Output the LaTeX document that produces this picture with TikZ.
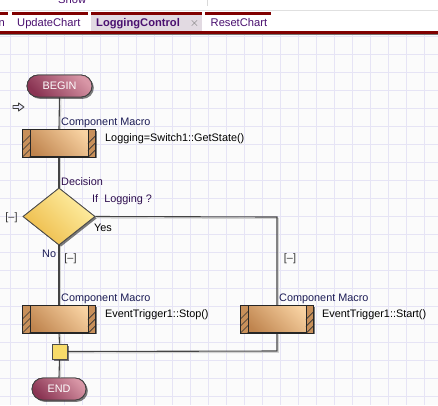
\documentclass[tikz,border=0pt]{standalone}
\usepackage{fontspec}
\setmainfont{Liberation Sans}
\usetikzlibrary{shapes.geometric,shapes.misc,shadows,calc}
\definecolor{tabred}{HTML}{800000}
\definecolor{tabtext}{HTML}{4A1070}
\definecolor{activetab}{HTML}{E2DAE2}
\definecolor{gridbg}{HTML}{FBFBFB}
\definecolor{gridline}{HTML}{E6E4F5}
\definecolor{labelblue}{HTML}{1B1B55}
\definecolor{labelpurple}{HTML}{2E0E4E}
\definecolor{termdark}{HTML}{8A3453}
\definecolor{termlight}{HTML}{D896A6}
\definecolor{boxdark}{HTML}{BF844E}
\definecolor{boxlight}{HTML}{F8D2A2}
\definecolor{stripfill}{HTML}{C8905A}
\definecolor{diadark}{HTML}{EDBB48}
\definecolor{dialight}{HTML}{FFF0A6}
\definecolor{junction}{HTML}{F8DC6A}
\definecolor{connline}{HTML}{444444}
\begin{document}
\begin{tikzpicture}[x=1bp,y=-1bp,font=\fontsize{10.9}{12}\selectfont,
  shade/.style={drop shadow={shadow xshift=1.8bp,shadow yshift=-1.8bp,fill=black,opacity=0.3}},
  term/.style={rounded rectangle, draw=black!75, line width=0.8bp, minimum height=22bp,
    inner sep=0pt, text=white, bottom color=termdark, top color=termlight, shading angle=-45, shade},
  compbox/.style={rectangle, draw=black!85, line width=0.9bp, minimum width=72bp, minimum height=27bp,
    inner sep=0pt, bottom color=boxdark, top color=boxlight, shading angle=-45, shade},
  decision/.style={diamond, draw=black!70, line width=0.8bp, minimum width=72bp, minimum height=57bp,
    inner sep=0pt, bottom color=diadark, top color=dialight, shading angle=-45, shade},
  junct/.style={rectangle, draw=black!70, line width=0.8bp, minimum size=15bp, inner sep=0pt,
    fill=junction, shade},
  conn/.style={draw=connline, line width=1.1bp,
    preaction={draw=black!18, line width=1.1bp, transform canvas={shift={(1.4bp,-1.4bp)}}}},
  lbl/.style={anchor=base west, inner sep=0pt, text=labelblue},
  plbl/.style={anchor=base west, inner sep=0pt, text=labelpurple},
  code/.style={anchor=base west, inner sep=0pt, text=black},
  toggle/.style={inner sep=0pt, text=black!80},
  tab/.style={anchor=base west, inner sep=0pt, text=tabtext, font=\fontsize{11.2}{12}\selectfont}
]
\useasboundingbox (0,0) rectangle (438,405);
% top area
\fill[white] (0,0) rectangle (438,35);
\node[tab] (show) at (58,3) {Show};
\draw[black!15, line width=1bp] (207,0) -- (207,6);
\draw[black!12, line width=1bp] (0,10) -- (438,10);
% tabs
\fill[activetab] (91,14.5) rectangle (202,31);
\fill[tabred] (0,12) rectangle (8,14.5);
\fill[tabred] (12,12) rectangle (88,14.5);
\fill[tabred] (91,12) rectangle (202,14.5);
\fill[tabred] (205,12) rectangle (271,14.5);
\node[tab] (t0) at (-1.5,26.5) {n};
\node[tab] (t1) at (17,26.5) {UpdateChart};
\node[tab, font=\fontsize{11.2}{12}\selectfont\bfseries] (t2) at (96,26.5) {LoggingControl};
\node[inner sep=0pt, text=black!55, font=\fontsize{12}{12}\selectfont] (tx) at (194.5,23.5) {$\times$};
\node[tab] (t3) at (210.5,26.5) {ResetChart};
\fill[tabred] (0,31) rectangle (438,33.6);
\fill[black!55] (0,33.6) rectangle (438,35);
% grid
\fill[gridbg] (0,35) rectangle (438,405);
\begin{scope}
\clip (0,35) rectangle (438,405);
\foreach \i in {0,...,24} \draw[gridline, line width=1bp] ({10+18*\i},35) -- ({10+18*\i},405);
\foreach \j in {0,...,20} \draw[gridline, line width=1bp] (0,{36+18*\j}) -- (438,{36+18*\j});
\end{scope}
% start marker arrow
\draw[fill=black!10!blue!8, draw=black!75, line width=0.9bp, line join=round]
  (13,105.5) -- (18.5,105.5) -- (18.5,103) -- (24,107) -- (18.5,111) -- (18.5,108.5) -- (13,108.5) -- cycle;
% nodes
\node[term, minimum width=65bp] (begin) at (59.5,86) {BEGIN};
\node[compbox] (m1) at (59,143) {};
\node[decision] (dec) at (59,216.5) {};
\node[compbox] (m2) at (59,319) {};
\node[compbox] (m3) at (277,319) {};
\node[junct] (j) at (59.5,351.5) {};
\node[term, minimum width=54bp] (end) at (59,389) {END};
\coordinate (c1) at (277,217);
\coordinate (c2) at (277,351);
% connectors
\draw[conn] (begin.south) -- (m1.north);
\draw[conn] (m1.south) -- (dec.north);
\draw[conn] (dec.south) -- (m2.north);
\draw[conn] (dec.east) -- (c1) -- (m3.north);
\draw[conn] (m2.south) -- (j.north);
\draw[conn] (m3.south) -- (c2) -- (j.east);
\draw[conn] (j.south) -- (end.north);
% redraw nodes above connectors
\node[compbox] at (m1) {};
\node[compbox] at (m2) {};
\node[compbox] at (m3) {};
\node[decision] at (dec) {};
\node[junct] at (j) {};
\node[term, minimum width=65bp] at (begin) {BEGIN};
\node[term, minimum width=54bp] at (end) {END};
% hatched strips on component boxes
\foreach \n in {m1,m2,m3} {
  \begin{scope}
    \clip (\n.north west) rectangle ($(\n.south west)+(7.5,0)$);
    \fill[stripfill] (\n.north west) rectangle ($(\n.south west)+(7.5,0)$);
    \foreach \k in {0,...,5} \draw[black!80, line width=0.6bp] ($(\n.south west)+({-14+\k*7},0)$) -- ++(27,-27);
  \end{scope}
  \begin{scope}
    \clip ($(\n.north east)+(-7.5,0)$) rectangle (\n.south east);
    \fill[stripfill] ($(\n.north east)+(-7.5,0)$) rectangle (\n.south east);
    \foreach \k in {0,...,5} \draw[black!80, line width=0.6bp] ($(\n.south east)+({-21+\k*7},0)$) -- ++(27,-27);
  \end{scope}
  \draw[black!85, line width=0.9bp] (\n.north west) rectangle (\n.south east);
  \draw[black!85, line width=0.8bp] ($(\n.north west)+(7.5,0)$) -- ($(\n.south west)+(7.5,0)$);
  \draw[black!85, line width=0.8bp] ($(\n.north east)+(-7.5,0)$) -- ($(\n.south east)+(-7.5,0)$);
}
% labels
\node[lbl] (l1) at (61,125) {Component Macro};
\node[code] (p1) at (105,141.5) {Logging=Switch1::GetState()};
\node[plbl] (l2) at (61,185.5) {Decision};
\node[plbl] (p2) at (92,202.5) {If\ \ Logging ?};
\node[code] (yes) at (94,231.5) {Yes};
\node[lbl] (no) at (42,257) {No};
\node[toggle] (tg1) at (11.5,217.5) {[–]};
\node[toggle] (tg2) at (70.5,259) {[–]};
\node[toggle] (tg3) at (290,259) {[–]};
\node[lbl] (l3) at (61,301) {Component Macro};
\node[lbl] (l4) at (279,301) {Component Macro};
\node[code] (p3) at (105,317.5) {EventTrigger1::Stop()};
\node[code] (p4) at (322,317.5) {EventTrigger1::Start()};
\end{tikzpicture}
\end{document}
